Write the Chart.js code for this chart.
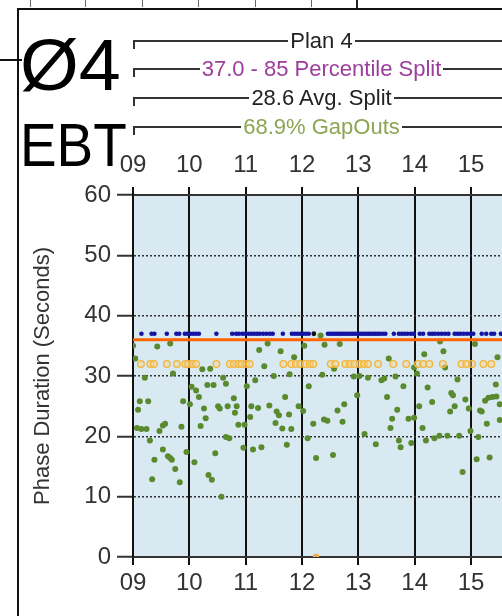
<!DOCTYPE html>
<html>
<head>
<meta charset="utf-8">
<script src="https://cdn.jsdelivr.net/npm/chart.js@4"></script>
<style>
  html, body { margin: 0; padding: 0; background: #fff; }
  #wrap { position: relative; width: 502px; height: 616px; overflow: hidden; font-family: "Liberation Sans", Arial, sans-serif; }
  #chart { position: absolute; left: 0; top: 0; }
  .rule { position: absolute; background: #111; }
  .mark { position: absolute; top: 0; width: 1px; height: 7px; background: #666; }
  .hdr { position: absolute; left: 133px; width: 377px; height: 24px; display: flex; align-items: center; font-size: 22px; }
  .hdr .ln { flex: 1; height: 0; border-top: 2px solid #333; position: relative; }
  .hdr .ln.first::before { content: ""; position: absolute; left: 0; top: -2px; width: 2px; height: 9px; background: #333; }
  .hdr .t { padding: 0 2px; white-space: nowrap; }
  .big { position: absolute; color: #000; line-height: 1; white-space: nowrap; }
</style>
</head>
<body>
<div id="wrap">
  <canvas id="chart" width="502" height="616"></canvas>

  <div class="mark" style="left:30px"></div>
  <div class="mark" style="left:85px"></div>
  <div class="mark" style="left:142px"></div>
  <div class="mark" style="left:198px"></div>
  <div class="mark" style="left:255px"></div>
  <div class="mark" style="left:311px"></div>
  <div class="mark" style="left:356px;width:2px;height:8px;background:#222"></div>
  <div class="rule" style="left:17px;top:8px;width:485px;height:2px"></div>
  <div class="rule" style="left:17px;top:8px;width:2px;height:608px"></div>
  <div class="rule" style="left:0;top:59px;width:22px;height:2px"></div>

  <div class="big" style="left:20px;top:29px;font-size:72px;transform:scaleX(1.05);transform-origin:left top">Ø4</div>
  <div class="big" style="left:20px;top:115px;font-size:61px;transform:scaleX(0.9);transform-origin:left top">EBT</div>

  <div class="hdr" style="top:29px"><span class="ln first"></span><span class="t" style="color:#222">Plan 4</span><span class="ln"></span></div>
  <div class="hdr" style="top:57px"><span class="ln first"></span><span class="t" style="color:#9c3c9c">37.0 - 85 Percentile Split</span><span class="ln"></span></div>
  <div class="hdr" style="top:86px"><span class="ln first"></span><span class="t" style="color:#222">28.6 Avg. Split</span><span class="ln"></span></div>
  <div class="hdr" style="top:115px"><span class="ln first"></span><span class="t" style="color:#8ca552">68.9% GapOuts</span><span class="ln"></span></div>
</div>

<script>
// hour of day axis (visible part of the plan) and duration axis
const firstHour = 9;
const hourLabels = ["09", "10", "11", "12", "13", "14", "15"];
const lastVisibleHour = 15.55;
const durationTicks = [0, 10, 20, 30, 40, 50, 60];

// programmed split for the plan (orange line)
const planStartHour = 9;
const planEndHour = 16;
const programmedSplit = 36;

// gap outs (green)
const gapOutHours = [
  9.00, 9.04, 9.07, 9.09, 9.12, 9.15, 9.21, 9.24, 9.27, 9.30, 9.34, 9.38, 9.43, 9.47, 9.53, 9.53,
  9.57, 9.62, 9.66, 9.66, 9.69, 9.71, 9.75, 9.83, 9.86, 9.89, 9.95, 10.01, 10.04, 10.09, 10.12, 10.17,
  10.20, 10.23, 10.26, 10.29, 10.32, 10.34, 10.37, 10.40, 10.43, 10.46, 10.51, 10.54, 10.57, 10.60,
  10.65, 10.65, 10.68, 10.71, 10.79, 10.81, 10.84, 10.87, 10.96, 10.98, 11.02, 11.08, 11.10, 11.13,
  11.17, 11.22, 11.24, 11.28, 11.33, 11.39, 11.42, 11.50, 11.53, 11.55, 11.59, 11.62, 11.65, 11.70,
  11.73, 11.77, 11.78, 11.81, 11.86, 11.94, 12.02, 12.04, 12.10, 12.12, 12.20, 12.25, 12.33, 12.36,
  12.39, 12.40, 12.45, 12.55, 12.57, 12.63, 12.67, 12.72, 12.75, 12.92, 12.98, 13.02, 13.11, 13.17,
  13.31, 13.41, 13.46, 13.51, 13.54, 13.57, 13.60, 13.66, 13.69, 13.72, 13.75, 13.80, 13.89, 13.94,
  13.99, 13.99, 14.04, 14.08, 14.14, 14.17, 14.20, 14.23, 14.31, 14.35, 14.44, 14.45, 14.51, 14.54,
  14.58, 14.63, 14.65, 14.68, 14.71, 14.76, 14.79, 14.85, 14.90, 14.96, 14.99, 15.07, 15.10, 15.13,
  15.16, 15.19, 15.25, 15.28, 15.31, 15.33, 15.38, 15.44, 15.45, 15.47, 15.51, 15.51
];
const gapOutSeconds = [
  35.0, 32.9, 21.4, 24.4, 25.8, 21.2, 29.7, 21.2, 25.8, 19.3, 12.9, 16.1, 34.9, 20.9, 21.8, 17.8,
  22.1, 16.7, 35.4, 16.4, 16.1, 30.4, 14.6, 12.4, 21.6, 25.8, 17.4, 25.3, 28.2, 15.7, 27.6, 26.5,
  21.7, 31.1, 24.6, 23.0, 28.5, 13.6, 31.2, 12.8, 28.5, 17.2, 25.0, 24.6, 10.0, 29.7,
  28.7, 19.9, 25.0, 19.7, 26.3, 23.9, 25.0, 21.9, 18.1, 21.9, 28.3, 23.2, 25.0, 17.8,
  29.3, 24.7, 34.3, 18.2, 31.6, 35.4, 25.1, 30.0, 22.2, 24.1, 23.5, 34.1, 21.3, 26.5,
  18.6, 23.6, 30.3, 21.2, 33.1, 25.0, 24.2, 35.0, 19.7, 28.3, 22.1, 16.4, 36.7, 30.2,
  22.8, 35.2, 22.6, 16.9, 31.2, 24.3, 35.3, 22.4, 25.3, 29.9, 26.8, 30.0, 20.4, 29.7,
  18.7, 29.3, 29.6, 26.5, 32.9, 21.4, 22.9, 29.9, 24.4, 19.3, 18.2, 28.3, 22.9, 18.9,
  31.4, 23.1, 30.4, 25.0, 21.4, 33.6, 19.3, 28.1, 25.7, 19.7, 20.1, 35.7, 34.1, 31.4,
  20.1, 24.1, 27.2, 26.8, 25.0, 29.4, 20.1, 14.1, 26.1, 24.6, 20.9, 35.3, 16.2, 19.9,
  24.3, 24.1, 25.9, 22.1, 26.4, 16.5, 26.5, 28.6, 26.6, 33.1, 25.3, 22.7
];

// force offs (blue), all at the same duration
const forceOffSeconds = 37;
const forceOffHours = [
  9.15, 9.33, 9.38, 9.60, 9.77, 9.82, 9.92, 9.97, 10.02, 10.07, 10.12, 10.17, 10.48, 10.76, 10.83,
  10.88, 10.94, 10.99, 11.05, 11.10, 11.15, 11.20, 11.25, 11.31, 11.37, 11.43, 11.48, 11.66, 11.82,
  11.87, 11.92, 11.97, 12.02, 12.07, 12.12, 12.46, 12.50, 12.54, 12.58, 12.62, 12.66, 12.70, 12.74,
  12.78, 12.82, 12.86, 12.90, 12.94, 12.98, 13.02, 13.06, 13.10, 13.14, 13.18, 13.22, 13.26, 13.30,
  13.34, 13.38, 13.43, 13.48, 13.63, 13.72, 13.77, 13.82, 13.87, 13.93, 13.98, 14.09, 14.15, 14.26,
  14.31, 14.36, 14.42, 14.48, 14.54, 14.60, 14.71, 14.76, 14.81, 14.87, 14.93, 14.99, 15.04, 15.19,
  15.27, 15.36, 15.41, 15.53
];

// unknown termination (black)
const unknownHours = [12.21];
const unknownSeconds = [37];

// pedestrian activity (orange rings)
const pedSeconds = 32;
const pedHours = [
  9.14, 9.31, 9.37, 9.60, 9.78, 9.93, 9.98, 10.05, 10.12, 10.48, 10.72, 10.79, 10.87, 10.93, 11.01,
  11.07, 11.67, 11.81, 11.89, 11.97, 12.06, 12.14, 12.20, 12.51, 12.59, 12.77, 12.85, 12.93, 13.02,
  13.10, 13.17, 13.35, 13.62, 13.85, 14.06, 14.15, 14.26, 14.50, 14.83, 14.92, 15.02, 15.22, 15.36
];
const pedZeroHours = [12.25];
const pedZeroSeconds = [0];

const FONT = "'Liberation Sans', Arial, sans-serif";

function points(hours, secs) {
  return hours.map((h, i) => ({ x: h, y: Array.isArray(secs) ? secs[i] : secs }));
}

const plotBackground = {
  id: "plotBackground",
  beforeDraw(chart) {
    const { ctx, chartArea: a } = chart;
    ctx.save();
    ctx.fillStyle = "#d8e9f2";
    ctx.fillRect(a.left, a.top, a.right - a.left, a.bottom - a.top);
    ctx.restore();
  }
};

function hourTicks(scale) {
  scale.ticks = hourLabels.map((l, i) => ({ value: firstHour + i }));
}

function hourAxis(position, pad, height, onArea) {
  return {
    type: "linear",
    position: position,
    min: firstHour,
    max: lastVisibleHour,
    afterBuildTicks: hourTicks,
    afterFit: s => { s.height = height; },
    ticks: {
      callback: (v, i) => hourLabels[i],
      color: "#333",
      font: { family: FONT, size: 24 },
      padding: pad,
      maxRotation: 0,
      autoSkip: false
    },
    grid: {
      drawOnChartArea: onArea,
      color: "#111",
      lineWidth: 2,
      tickLength: 8,
      tickColor: "#111",
      tickWidth: 2
    },
    border: { color: "#333", width: 2 }
  };
}

new Chart(document.getElementById("chart"), {
  type: "scatter",
  data: {
    datasets: [
      {
        label: "Programmed Split",
        data: points([planStartHour, planEndHour], programmedSplit),
        showLine: true,
        borderColor: "#ff6400",
        borderWidth: 3,
        pointRadius: 0,
        order: 0
      },
      {
        label: "GapOut",
        data: points(gapOutHours, gapOutSeconds),
        backgroundColor: "#5a8a2e",
        borderWidth: 0,
        pointRadius: 3,
        order: 2
      },
      {
        label: "ForceOff",
        data: points(forceOffHours, forceOffSeconds),
        backgroundColor: "#1515a3",
        borderWidth: 0,
        pointRadius: 2.3,
        order: 2
      },
      {
        label: "Unknown",
        data: points(unknownHours, unknownSeconds),
        backgroundColor: "#111",
        borderWidth: 0,
        pointRadius: 2.4,
        order: 1
      },
      {
        label: "Ped Activity",
        data: points(pedHours, pedSeconds),
        backgroundColor: "rgba(250, 216, 140, 0.45)",
        borderColor: "#f2b63e",
        borderWidth: 1.4,
        pointRadius: 3.3,
        order: 1
      },
      {
        label: "Ped Activity",
        data: points(pedZeroHours, pedZeroSeconds),
        backgroundColor: "#f0aa4c",
        borderWidth: 0,
        pointRadius: 3.3,
        order: 1
      }
    ]
  },
  options: {
    responsive: false,
    devicePixelRatio: 1,
    animation: false,
    layout: { padding: 0, autoPadding: false },
    plugins: {
      legend: { display: false },
      tooltip: { enabled: false }
    },
    scales: {
      x: hourAxis("bottom", 4, 59, true),
      xTop: hourAxis("top", 7, 195, false),
      y: {
        type: "linear",
        position: "left",
        min: durationTicks[0],
        max: durationTicks[durationTicks.length - 1],
        afterBuildTicks: s => { s.ticks = durationTicks.map(v => ({ value: v })); },
        afterFit: s => { s.width = 133; },
        ticks: {
          color: "#333",
          font: { family: FONT, size: 24 },
          padding: 6
        },
        grid: {
          color: "#333",
          lineWidth: 1.5,
          tickLength: 16,
          tickColor: "#333",
          tickWidth: 2,
          tickBorderDash: []
        },
        border: { color: "#111", width: 2, dash: [2, 2] },
        title: {
          display: true,
          text: "Phase Duration (Seconds)",
          color: "#333",
          font: { family: FONT, size: 22 },
          padding: { top: 30, bottom: 0 }
        }
      }
    }
  },
  plugins: [plotBackground]
});
</script>
</body>
</html>
